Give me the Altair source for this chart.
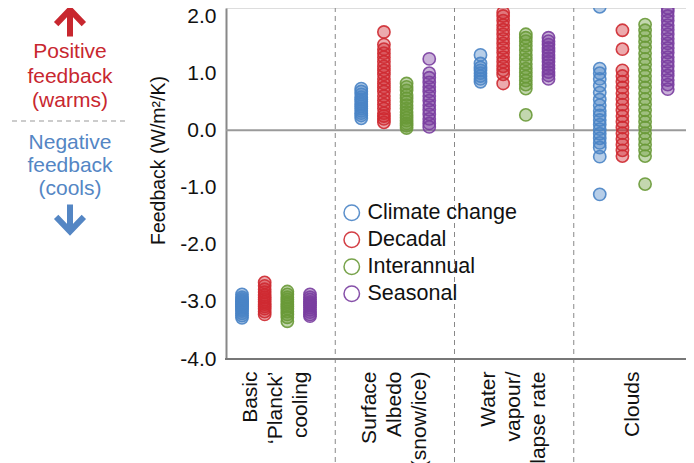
import altair as alt
import pandas as pd

categories = ["Basic|‘Planck’|cooling", "Surface|Albedo|(snow/ice)", "Water|vapour/|lapse rate", "|Clouds|"]
series = ["Climate change", "Decadal", "Interannual", "Seasonal"]
colors = ["#4a84c6", "#cf2a31", "#6a9a38", "#7a3ea0"]

# Basic 'Planck' cooling
planck_cc = [-2.87, -2.92, -2.95, -2.98, -3.0, -3.03, -3.05, -3.08, -3.1, -3.13, -3.16, -3.2, -3.24, -3.28]
planck_dec = [-2.66, -2.72, -2.78, -2.83, -2.88, -2.92, -2.96, -3.0, -3.04, -3.08, -3.12, -3.17, -3.22]
planck_int = [-2.82, -2.87, -2.92, -2.96, -3.0, -3.04, -3.08, -3.12, -3.17, -3.22, -3.27, -3.34]
planck_sea = [-2.87, -2.92, -2.96, -3.0, -3.03, -3.06, -3.1, -3.14, -3.18, -3.22, -3.25]
# Surface albedo
albedo_cc = [0.21, 0.26, 0.3, 0.34, 0.38, 0.42, 0.46, 0.5, 0.54, 0.58, 0.63, 0.68, 0.73]
albedo_dec = [0.14, 0.2, 0.25, 0.3, 0.38, 0.45, 0.52, 0.6, 0.68, 0.75, 0.82, 0.9, 0.98, 1.05, 1.12,
              1.2, 1.28, 1.35, 1.42, 1.5, 1.72]
albedo_int = [0.04, 0.08, 0.12, 0.17, 0.22, 0.27, 0.32, 0.38, 0.44, 0.5, 0.56, 0.62, 0.7, 0.76, 0.82]
albedo_sea = [0.06, 0.12, 0.2, 0.28, 0.36, 0.44, 0.52, 0.6, 0.68, 0.76, 0.84, 0.92, 1.0, 1.25]
# Water vapour / lapse rate
wv_cc = [0.85, 0.9, 0.95, 1.0, 1.05, 1.1, 1.17, 1.32]
wv_dec = [0.82, 0.98, 1.05, 1.12, 1.2, 1.28, 1.36, 1.44, 1.52, 1.6, 1.68, 1.76, 1.84, 1.92, 2.0, 2.06]
wv_int = [0.27, 0.73, 0.8, 0.87, 0.94, 1.01, 1.08, 1.16, 1.24, 1.32, 1.4, 1.48, 1.56, 1.62, 1.68]
wv_sea = [0.9, 0.96, 1.02, 1.08, 1.14, 1.2, 1.26, 1.32, 1.38, 1.44, 1.5, 1.56, 1.62]
# Clouds
cl_cc = [-1.12, -0.46, -0.3, -0.22, -0.14, -0.06, 0.02, 0.1, 0.18, 0.26, 0.34, 0.44, 0.54, 0.66,
         0.78, 0.9, 1.0, 1.08, 2.16]
cl_dec = [-0.45, -0.35, -0.25, -0.15, -0.05, 0.05, 0.15, 0.25, 0.35, 0.45, 0.55, 0.65, 0.75, 0.85,
          0.95, 1.05, 1.42, 1.75]
cl_int = [-0.94, -0.45, -0.35, -0.25, -0.15, -0.05, 0.05, 0.15, 0.25, 0.35, 0.45, 0.55, 0.65, 0.75,
          0.85, 0.95, 1.05, 1.15, 1.25, 1.35, 1.45, 1.55, 1.65, 1.75, 1.85]
cl_sea = [0.72, 0.8, 0.88, 0.96, 1.04, 1.12, 1.2, 1.28, 1.36, 1.44, 1.52, 1.6, 1.68, 1.76, 1.84,
          1.92, 2.0, 2.08, 2.14]

y_ticks = [-4, -3, -2, -1, 0, 1, 2]

table = {
    categories[0]: [planck_cc, planck_dec, planck_int, planck_sea],
    categories[1]: [albedo_cc, albedo_dec, albedo_int, albedo_sea],
    categories[2]: [wv_cc, wv_dec, wv_int, wv_sea],
    categories[3]: [cl_cc, cl_dec, cl_int, cl_sea],
}
rows = []
for cat, lists in table.items():
    for s, vals in zip(series, lists):
        for v in vals:
            rows.append({"cat": cat, "series": s, "value": v})
df = pd.DataFrame(rows)

W, H = 460, 351
FONT = "Liberation Sans"
FS = 21
RED = "#c8272f"
BLUE = "#5486c4"

xscale = alt.Scale(domain=categories, range=[-10, 467], paddingInner=0, paddingOuter=0)
yscale = alt.Scale(domain=[-4, 2.14], nice=False, zero=False)
xoff = alt.XOffset("series:N", scale=alt.Scale(domain=series, range=[26, 94], paddingInner=0, paddingOuter=0))

x_enc = alt.X("cat:N", scale=xscale, title=None, axis=alt.Axis(
    labelExpr="split(datum.label, '|')", labelAngle=270, labelAlign="right", labelBaseline="middle",
    labelFontSize=FS, labelLineHeight=25, labelColor="#111", ticks=False, domain=False,
    labelPadding=12, labelLimit=0, labelOffset=-25, grid=False))
y_enc = alt.Y("value:Q", scale=yscale, axis=alt.Axis(
    values=y_ticks,
    labelExpr="datum.value < 0 ? '-' + format(-datum.value, '.1f') : format(datum.value, '.1f')",
    labelFontSize=FS, labelColor="#111", ticks=False, domainColor="#888", domainWidth=2,
    labelPadding=10, grid=False, title="Feedback (W/m²/K)", titleFontSize=19.5,
    titleFontWeight="normal", titleColor="#111", titleX=-68, titleY=152, titleAngle=270,
    titleAlign="center", titleBaseline="middle"))

fills = alt.Chart(df).mark_point(filled=True, size=150, opacity=0.4, strokeOpacity=0, clip=True).encode(
    x=x_enc, xOffset=xoff, y=y_enc,
    fill=alt.Fill("series:N", scale=alt.Scale(domain=series, range=colors), legend=None),
)

rings = alt.Chart(df).mark_point(filled=False, size=150, strokeWidth=1.6, opacity=0.9, clip=True).encode(
    x=x_enc, xOffset=xoff, y=y_enc,
    color=alt.Color("series:N", scale=alt.Scale(domain=series, range=colors), legend=alt.Legend(
        orient="none", legendX=115, legendY=194, title=None, labelFontSize=21.5, labelColor="#111",
        symbolSize=240, symbolStrokeWidth=1.5, rowPadding=4, labelOffset=5, symbolType="circle",
        padding=0)),
)

zero = alt.Chart(pd.DataFrame({"z": [0]})).mark_rule(color="#9a9a9a", strokeWidth=2).encode(
    y=alt.Y("z:Q", scale=yscale))

bottom = alt.Chart(pd.DataFrame({"a": [0]})).mark_rule(color="#777", strokeWidth=2).encode(
    x=alt.value(-1), x2=alt.value(W), y=alt.value(H))

seps = alt.Chart(pd.DataFrame({"cat": categories[1:]})).mark_rule(
    color="#888", strokeDash=[5, 4], strokeWidth=1).encode(
    x=alt.X("cat:N", scale=xscale, bandPosition=0),
    y=alt.value(-10), y2=alt.value(H + 120))

pos_lines = pd.DataFrame({"t": ["Positive", "feedback", "(warms)"], "py": [44, 69, 93]})
neg_lines = pd.DataFrame({"t": ["Negative", "feedback", "(cools)"], "py": [135, 158, 181]})

pos_text = alt.Chart(pos_lines).mark_text(fontSize=FS, color=RED, align="center", baseline="middle").encode(
    text="t:N", x=alt.value(-156), y=alt.Y("py:Q", scale=None))
neg_text = alt.Chart(neg_lines).mark_text(fontSize=FS, color=BLUE, align="center", baseline="middle").encode(
    text="t:N", x=alt.value(-156), y=alt.Y("py:Q", scale=None))

up_arrow = alt.Chart(pd.DataFrame({"a": [0]})).mark_point(
    shape="M-0.95,0.15L0,-0.85L0.95,0.15M0,-0.85L0,1", filled=False, size=850, strokeWidth=6,
    strokeJoin="miter", strokeCap="butt", color=RED, opacity=1).encode(x=alt.value(-156), y=alt.value(14))
down_arrow = alt.Chart(pd.DataFrame({"a": [0]})).mark_point(
    shape="M-0.95,-0.15L0,0.85L0.95,-0.15M0,0.85L0,-1", filled=False, size=850, strokeWidth=6,
    strokeJoin="miter", strokeCap="butt", color=BLUE, opacity=1).encode(x=alt.value(-156), y=alt.value(211))

dash = alt.Chart(pd.DataFrame({"a": [0]})).mark_rule(color="#999", strokeDash=[5, 4], strokeWidth=1.2).encode(
    x=alt.value(-214), x2=alt.value(-98), y=alt.value(113))

chart = alt.layer(seps, zero, bottom, fills, rings, pos_text, neg_text, up_arrow, down_arrow, dash).properties(
    width=W, height=H, autosize=alt.AutoSizeParams(type="none"),
    padding={"left": 218, "top": 0, "right": 0, "bottom": 110}
).resolve_scale(color="independent").configure_view(stroke=None).configure(font=FONT)

chart.save("out.html", embed_options={"renderer": "svg", "actions": False})
